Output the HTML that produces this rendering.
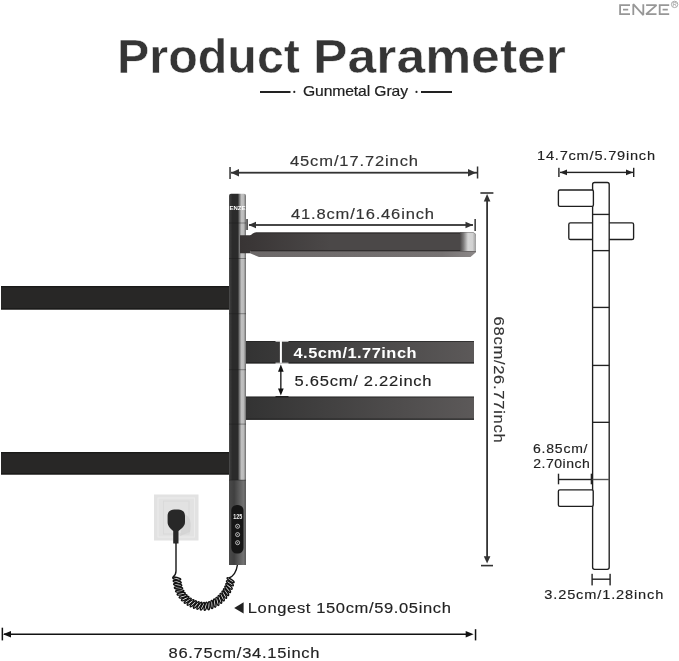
<!DOCTYPE html>
<html><head><meta charset="utf-8">
<style>
html,body{margin:0;padding:0;background:#fff;}
body{width:679px;height:661px;overflow:hidden;position:relative;}
svg{position:absolute;left:0;top:0;display:block;will-change:transform;}
text{font-family:"Liberation Sans",sans-serif;}
</style></head>
<body>
<svg width="679" height="661" viewBox="0 0 679 661">
<defs>
  <linearGradient id="pole" x1="0" y1="0" x2="1" y2="0">
    <stop offset="0" stop-color="#505050"/>
    <stop offset="0.07" stop-color="#3a3a3a"/>
    <stop offset="0.2" stop-color="#2b2b2b"/>
    <stop offset="0.52" stop-color="#2b2b2b"/>
    <stop offset="0.64" stop-color="#8a8a8a"/>
    <stop offset="0.74" stop-color="#c2c2c2"/>
    <stop offset="0.87" stop-color="#bababa"/>
    <stop offset="1" stop-color="#6a6a6a"/>
  </linearGradient>
  <linearGradient id="midbar" x1="0" y1="0" x2="1" y2="0">
    <stop offset="0" stop-color="#333333"/>
    <stop offset="1" stop-color="#5c5959"/>
  </linearGradient>
  <linearGradient id="shelfcap" x1="0" y1="0" x2="1" y2="0">
    <stop offset="0" stop-color="#4a4747"/>
    <stop offset="0.22" stop-color="#7e7c7c"/>
    <stop offset="0.5" stop-color="#d6d6d6"/>
    <stop offset="0.78" stop-color="#d2d2d2"/>
    <stop offset="1" stop-color="#9c9c9c"/>
  </linearGradient>
  <linearGradient id="polelow" x1="0" y1="0" x2="1" y2="0">
    <stop offset="0" stop-color="#4a4a4a"/>
    <stop offset="0.3" stop-color="#404040"/>
    <stop offset="0.6" stop-color="#5c5c5c"/>
    <stop offset="0.85" stop-color="#727272"/>
    <stop offset="1" stop-color="#5a5a5a"/>
  </linearGradient>
  <linearGradient id="shelfbody" gradientUnits="userSpaceOnUse" x1="240" y1="0" x2="330" y2="0">
    <stop offset="0" stop-color="#383434"/>
    <stop offset="1" stop-color="#4b4848"/>
  </linearGradient>
  <linearGradient id="shelfstrip" gradientUnits="userSpaceOnUse" x1="250" y1="0" x2="476" y2="0">
    <stop offset="0" stop-color="#6c6868"/>
    <stop offset="0.85" stop-color="#767272"/>
    <stop offset="1" stop-color="#8c8888"/>
  </linearGradient>
</defs>

<!-- ENZE logo -->
<g fill="none" stroke="#979797" stroke-width="1.8" stroke-linejoin="bevel">
  <path d="M620.1 4.2 V15.1 M619.2 5.1 H630 M619.2 14.2 H630 M623 9.6 H628.2"/>
  <path d="M633.3 15.1 V4.2 L643.3 15.1 V4.2"/>
  <path d="M646.1 5.1 H656.5 L646.1 14.2 H656.5"/>
  <path d="M659.7 4.2 V15.1 M658.8 5.1 H669.2 M658.8 14.2 H669.2 M662.6 9.6 H667.8"/>
  <circle cx="674.6" cy="4.4" r="3.2" stroke-width="0.8"/>
  <path d="M673.3 6.4 V2.4 H675 Q676.3 2.4 676.3 3.4 Q676.3 4.4 675 4.4 H673.3 M674.8 4.4 L676.3 6.4" stroke-width="0.6"/>
</g>

<!-- Title -->
<text x="117" y="73" font-size="48.2" font-weight="bold" fill="#353535" stroke="#fff" stroke-width="0.5" textLength="183" lengthAdjust="spacingAndGlyphs">Product</text>
<text x="313" y="73" font-size="48.2" font-weight="bold" fill="#353535" stroke="#fff" stroke-width="0.5" textLength="253" lengthAdjust="spacingAndGlyphs">Parameter</text>
<!-- subtitle -->
<rect x="260" y="91" width="30.5" height="2" fill="#222"/>
<circle cx="294.3" cy="91.9" r="1.1" fill="#222"/>
<text transform="translate(303.0,96.0) scale(1.08,1)" x="0" y="0" font-size="14.5" fill="#1e1e1e" stroke="#1e1e1e" stroke-width="0.2" textLength="97.2" lengthAdjust="spacing">Gunmetal Gray</text>
<circle cx="416.5" cy="91.9" r="1.1" fill="#222"/>
<rect x="421" y="91" width="31" height="2" fill="#222"/>

<!-- 45cm dimension -->
<text transform="translate(290.0,165.8) scale(1.08,1)" x="0" y="0" font-size="15.3" fill="#333" stroke="#333" stroke-width="0.15" textLength="118.5" lengthAdjust="spacing">45cm/17.72inch</text>
<g fill="#333" stroke="none">
  <rect x="229.3" y="167" width="1.5" height="12"/>
  <rect x="231" y="171.8" width="246" height="1.8"/>
  <path d="M231 172.7 L239 169 L239 176.4 Z"/>
  <rect x="476.8" y="166.5" width="1.5" height="12"/>
  <path d="M476 172.7 L468 169 L468 176.4 Z"/>
</g>

<!-- 41.8 dimension -->
<text transform="translate(291.0,218.6) scale(1.08,1)" x="0" y="0" font-size="15.3" fill="#333" stroke="#333" stroke-width="0.15" textLength="132.4" lengthAdjust="spacing">41.8cm/16.46inch</text>
<g fill="#333">
  <rect x="246.3" y="219" width="1.5" height="11"/>
  <rect x="249" y="224.1" width="224" height="1.8"/>
  <path d="M248.5 225 L256 221.7 L256 228.3 Z"/>
  <path d="M473 225 L465.5 221.7 L465.5 228.3 Z"/>
  <rect x="474.4" y="219" width="1.5" height="12"/>
</g>

<!-- 68cm vertical dimension -->
<g fill="#333">
  <rect x="480.4" y="192.2" width="13" height="1.6"/>
  <rect x="486.2" y="197" width="1.8" height="363"/>
  <path d="M487.1 194 L483.8 201.5 L490.4 201.5 Z"/>
  <path d="M487.1 563.5 L483.8 556.3 L490.4 556.3 Z"/>
  <rect x="481" y="564.8" width="12" height="1.6"/>
</g>
<text transform="translate(494.1,316.6) rotate(90) scale(1.08,1)" x="0" y="0" font-size="15.3" fill="#333" stroke="#333" stroke-width="0.15" textLength="116.7" lengthAdjust="spacing">68cm/26.77inch</text>

<!-- left long bars -->
<rect x="1" y="286" width="229" height="23.5" fill="#282726"/>
<rect x="1" y="452" width="229" height="22.5" fill="#282726"/>
<g fill="#1a1a18">
<rect x="1" y="286" width="229" height="1.3"/>
<rect x="1" y="308.2" width="229" height="1.3"/>
<rect x="1" y="452" width="229" height="1.3"/>
<rect x="1" y="473.2" width="229" height="1.3"/>
</g>

<!-- mid bars -->
<rect x="246" y="341" width="228" height="22.3" fill="url(#midbar)"/>
<rect x="246" y="362.3" width="228" height="1.2" fill="#222"/>
<rect x="246" y="341" width="228" height="1" fill="#222" opacity="0.7"/>
<rect x="246" y="396.6" width="228" height="23" fill="url(#midbar)"/>
<rect x="246" y="418.6" width="228" height="1.2" fill="#222"/>
<rect x="246" y="396.6" width="228" height="1" fill="#222" opacity="0.7"/>

<!-- pole -->
<path d="M229 195.8 Q229 193.8 231 193.8 L244 193.8 Q246 193.8 246 195.8 L246 565 L229 565 Z" fill="url(#pole)"/>
<rect x="229" y="480" width="17" height="85" fill="url(#polelow)"/>
<g fill="#1a1a1a" opacity="0.4">
  <rect x="229" y="222.5" width="17" height="1"/>
  <rect x="229" y="258" width="17" height="1"/>
  <rect x="229" y="313.2" width="17" height="1"/>
  <rect x="229" y="369.2" width="17" height="1"/>
  <rect x="229" y="423.6" width="17" height="1"/>
  <rect x="229" y="479.6" width="17" height="1"/>
</g>
<text x="229.5" y="210" font-size="6" font-weight="bold" fill="#fff" textLength="16" lengthAdjust="spacingAndGlyphs">ENZE</text>
<!-- top shelf -->
<path d="M240 235.3 H250 C252 235.3 252.5 232.6 256 232.6 H472 Q476 232.6 476 236.5 V251 H252 L250 253.2 H240 Z" fill="url(#shelfbody)"/>
<path d="M256 232.6 H472 Q474.5 232.6 475.5 234 H254 Z" fill="#373434"/>
<path d="M250 251 H476 V252.2 L470.5 257 H259 L250 253.2 Z" fill="url(#shelfstrip)"/>
<rect x="251" y="250.2" width="225" height="1.1" fill="#2c2828"/>
<path d="M460 232.6 H472 Q476 232.6 476 236.5 V251 H460 Z" fill="url(#shelfcap)"/>
<!-- control panel -->
<rect x="231.3" y="505" width="12.2" height="48.5" rx="5.5" fill="#161616"/>
<text x="233.2" y="519" font-size="6.6" font-weight="bold" fill="#f2f2f2" textLength="9" lengthAdjust="spacingAndGlyphs">125</text>
<g fill="none" stroke="#d8d8d8" stroke-width="0.85">
  <circle cx="237.6" cy="526.3" r="2"/>
  <circle cx="237.6" cy="534.6" r="2"/>
  <circle cx="237.6" cy="542.7" r="2"/>
</g>
<g fill="#bbb">
  <circle cx="237.6" cy="526.3" r="0.6"/>
  <circle cx="237.6" cy="534.6" r="0.6"/>
  <circle cx="237.6" cy="542.7" r="0.6"/>
</g>

<!-- mid dims -->
<g>
  <rect x="279.9" y="341" width="2" height="22" fill="#fff"/>
  <rect x="275.5" y="340.5" width="13" height="1.2" fill="#f4f4f4"/>
  <rect x="275.5" y="362.6" width="13" height="1.3" fill="#d8d8d8"/>
  <rect x="280.2" y="368" width="1.3" height="24" fill="#111"/>
  <path d="M280.85 364.6 L278 371.8 L283.7 371.8 Z" fill="#111"/>
  <path d="M280.85 395.6 L278 388.6 L283.7 388.6 Z" fill="#111"/>
  <rect x="275.5" y="396" width="13" height="1.2" fill="#222"/>
</g>
<text transform="translate(293.5,358) scale(1.08,1)" x="0" y="0" font-size="15.2" font-weight="bold" fill="#fff" textLength="113.9" lengthAdjust="spacing">4.5cm/1.77inch</text>
<text transform="translate(294.5,386.0) scale(1.08,1)" x="0" y="0" font-size="15.3" fill="#222" stroke="#222" stroke-width="0.15" textLength="126.9" lengthAdjust="spacing">5.65cm/ 2.22inch</text>

<!-- socket -->
<rect x="154" y="494.5" width="44.5" height="46" fill="#e2e2e2"/>
<rect x="158" y="498" width="36.5" height="39" fill="none" stroke="#ebebeb" stroke-width="1"/>
<rect x="163.5" y="501" width="25.5" height="33" fill="none" stroke="#d8d8d8" stroke-width="0.8"/>
<path d="M184 514 C190 516 192 522 190 532 L180 536 Z" fill="#d2d2d2" opacity="0.8"/>
<path d="M176.3 509.4 C182 509.4 185 511 185 516 V522 C185 526 182 528 178.5 531 V543.5 H173.2 V531 C170 528 167.6 526 167.6 522 V516 C167.6 511 170.5 509.4 176.3 509.4 Z" fill="#282828"/>
<!-- cord -->
<path d="M176 543 L176 571 Q176 575 173 577" fill="none" stroke="#151515" stroke-width="1.4"/>
<path d="M229 578 Q236 575 237.4 565" fill="none" stroke="#151515" stroke-width="1.4"/>
<g fill="none" stroke="#111" stroke-width="1.45">
<ellipse cx="176.7" cy="578.6" rx="4.1" ry="1.1" transform="rotate(194.4 176.7 578.6)"/>
<ellipse cx="177.2" cy="581.8" rx="4.1" ry="1.1" transform="rotate(193.6 177.2 581.8)"/>
<ellipse cx="177.7" cy="584.9" rx="4.1" ry="1.1" transform="rotate(190.5 177.7 584.9)"/>
<ellipse cx="178.5" cy="588.0" rx="4.1" ry="1.1" transform="rotate(184.1 178.5 588.0)"/>
<ellipse cx="179.7" cy="591.0" rx="4.1" ry="1.1" transform="rotate(176.1 179.7 591.0)"/>
<ellipse cx="181.2" cy="593.8" rx="4.1" ry="1.1" transform="rotate(169.8 181.2 593.8)"/>
<ellipse cx="183.1" cy="596.4" rx="4.1" ry="1.1" transform="rotate(162.8 183.1 596.4)"/>
<ellipse cx="185.2" cy="598.7" rx="4.1" ry="1.1" transform="rotate(154.1 185.2 598.7)"/>
<ellipse cx="187.7" cy="600.7" rx="4.1" ry="1.1" transform="rotate(146.5 187.7 600.7)"/>
<ellipse cx="190.5" cy="602.4" rx="4.1" ry="1.1" transform="rotate(140.9 190.5 602.4)"/>
<ellipse cx="193.3" cy="603.8" rx="4.1" ry="1.1" transform="rotate(135.4 193.3 603.8)"/>
<ellipse cx="196.3" cy="605.0" rx="4.1" ry="1.1" transform="rotate(130.3 196.3 605.0)"/>
<ellipse cx="199.4" cy="605.8" rx="4.1" ry="1.1" transform="rotate(124.2 199.4 605.8)"/>
<ellipse cx="202.5" cy="606.3" rx="4.1" ry="1.1" transform="rotate(116.6 202.5 606.3)"/>
<ellipse cx="205.7" cy="606.3" rx="4.1" ry="1.1" transform="rotate(105.3 205.7 606.3)"/>
<ellipse cx="208.9" cy="605.7" rx="4.1" ry="1.1" transform="rotate(94.5 208.9 605.7)"/>
<ellipse cx="211.9" cy="604.5" rx="4.1" ry="1.1" transform="rotate(87.3 211.9 604.5)"/>
<ellipse cx="214.7" cy="603.1" rx="4.1" ry="1.1" transform="rotate(82.3 214.7 603.1)"/>
<ellipse cx="217.4" cy="601.4" rx="4.1" ry="1.1" transform="rotate(76.4 217.4 601.4)"/>
<ellipse cx="219.9" cy="599.4" rx="4.1" ry="1.1" transform="rotate(69.4 219.9 599.4)"/>
<ellipse cx="222.2" cy="597.1" rx="4.1" ry="1.1" transform="rotate(64.4 222.2 597.1)"/>
<ellipse cx="224.3" cy="594.7" rx="4.1" ry="1.1" transform="rotate(60.5 224.3 594.7)"/>
<ellipse cx="226.1" cy="592.1" rx="4.1" ry="1.1" transform="rotate(54.6 226.1 592.1)"/>
<ellipse cx="227.7" cy="589.3" rx="4.1" ry="1.1" transform="rotate(49.0 227.7 589.3)"/>
<ellipse cx="229.0" cy="586.4" rx="4.1" ry="1.1" transform="rotate(41.5 229.0 586.4)"/>
<ellipse cx="229.9" cy="583.3" rx="4.1" ry="1.1" transform="rotate(35.2 229.9 583.3)"/>
<ellipse cx="230.6" cy="580.2" rx="4.1" ry="1.1" transform="rotate(32.8 230.6 580.2)"/>
</g>

<!-- Longest -->
<path d="M234.2 608 L243.6 602.3 L243.6 613.6 Z" fill="#222"/>
<text transform="translate(247.8,612.9) scale(1.08,1)" x="0" y="0" font-size="15.3" fill="#222" stroke="#222" stroke-width="0.15" textLength="188.0" lengthAdjust="spacing">Longest 150cm/59.05inch</text>

<!-- 86.75 dim -->
<g fill="#111">
  <rect x="1.6" y="627.7" width="1.5" height="12.7"/>
  <rect x="4" y="633.5" width="465" height="1.5"/>
  <path d="M3 634.2 L11 631 L11 637.5 Z"/>
  <path d="M473.6 634.2 L465.7 631 L465.7 637.5 Z"/>
  <rect x="474.8" y="629.2" width="1.5" height="11.2"/>
</g>
<text transform="translate(168.5,658.3) scale(1.08,1)" x="0" y="0" font-size="15.3" fill="#222" stroke="#222" stroke-width="0.15" textLength="139.8" lengthAdjust="spacing">86.75cm/34.15inch</text>

<!-- side view -->
<text transform="translate(537.0,160.0) scale(1.08,1)" x="0" y="0" font-size="13.5" fill="#222" stroke="#222" stroke-width="0.15" textLength="109.3" lengthAdjust="spacing">14.7cm/5.79inch</text>
<g fill="#222">
  <rect x="558.2" y="167.8" width="1.4" height="9.2"/>
  <rect x="560" y="171.7" width="73" height="1.4"/>
  <path d="M560 172.4 L567 169.6 L567 175.2 Z"/>
  <path d="M633 172.4 L626 169.6 L626 175.2 Z"/>
  <rect x="633" y="167.8" width="1.4" height="9.2"/>
</g>
<g fill="#fff" stroke="#1e1e1e" stroke-width="1.35">
  <rect x="568.8" y="222.9" width="64.8" height="16.6" rx="1.6"/>
  <rect x="592.6" y="182.5" width="16.6" height="386.8" rx="2"/>
  <rect x="558.4" y="190" width="35" height="16.4" rx="1.4"/>
  <rect x="558.4" y="489.8" width="34.8" height="16.6" rx="1.4"/>
</g>
<g fill="#222">
  <rect x="592.4" y="213.75" width="16.9" height="1.35"/>
  <rect x="592.4" y="249.95" width="16.9" height="1.35"/>
  <rect x="592.4" y="306.75" width="16.9" height="1.35"/>
  <rect x="592.4" y="364.75" width="16.9" height="1.35"/>
  <rect x="592.4" y="421.65" width="16.9" height="1.35"/>
  <rect x="592.4" y="478.8" width="16.9" height="1.4" fill="#555"/>
</g>
<text transform="translate(533.0,452.5) scale(1.08,1)" x="0" y="0" font-size="13" fill="#222" stroke="#222" stroke-width="0.15" textLength="50.5" lengthAdjust="spacing">6.85cm/</text>
<text transform="translate(533.3,468.1) scale(1.08,1)" x="0" y="0" font-size="13" fill="#222" stroke="#222" stroke-width="0.15" textLength="52.3" lengthAdjust="spacing">2.70inch</text>
<g fill="#222">
  <rect x="557.8" y="473.7" width="1.4" height="10.6"/>
  <rect x="559" y="478.8" width="33" height="1.4"/>
  <rect x="590.7" y="473.7" width="1.4" height="10.6"/>
  <rect x="591.4" y="573.8" width="1.4" height="11.6"/>
  <rect x="592" y="578.5" width="18" height="1.4"/>
  <rect x="609.4" y="573.8" width="1.4" height="11.6"/>
</g>
<text transform="translate(544.3,599.0) scale(1.08,1)" x="0" y="0" font-size="13.5" fill="#222" stroke="#222" stroke-width="0.15" textLength="110.2" lengthAdjust="spacing">3.25cm/1.28inch</text>
</svg>
</body></html>
